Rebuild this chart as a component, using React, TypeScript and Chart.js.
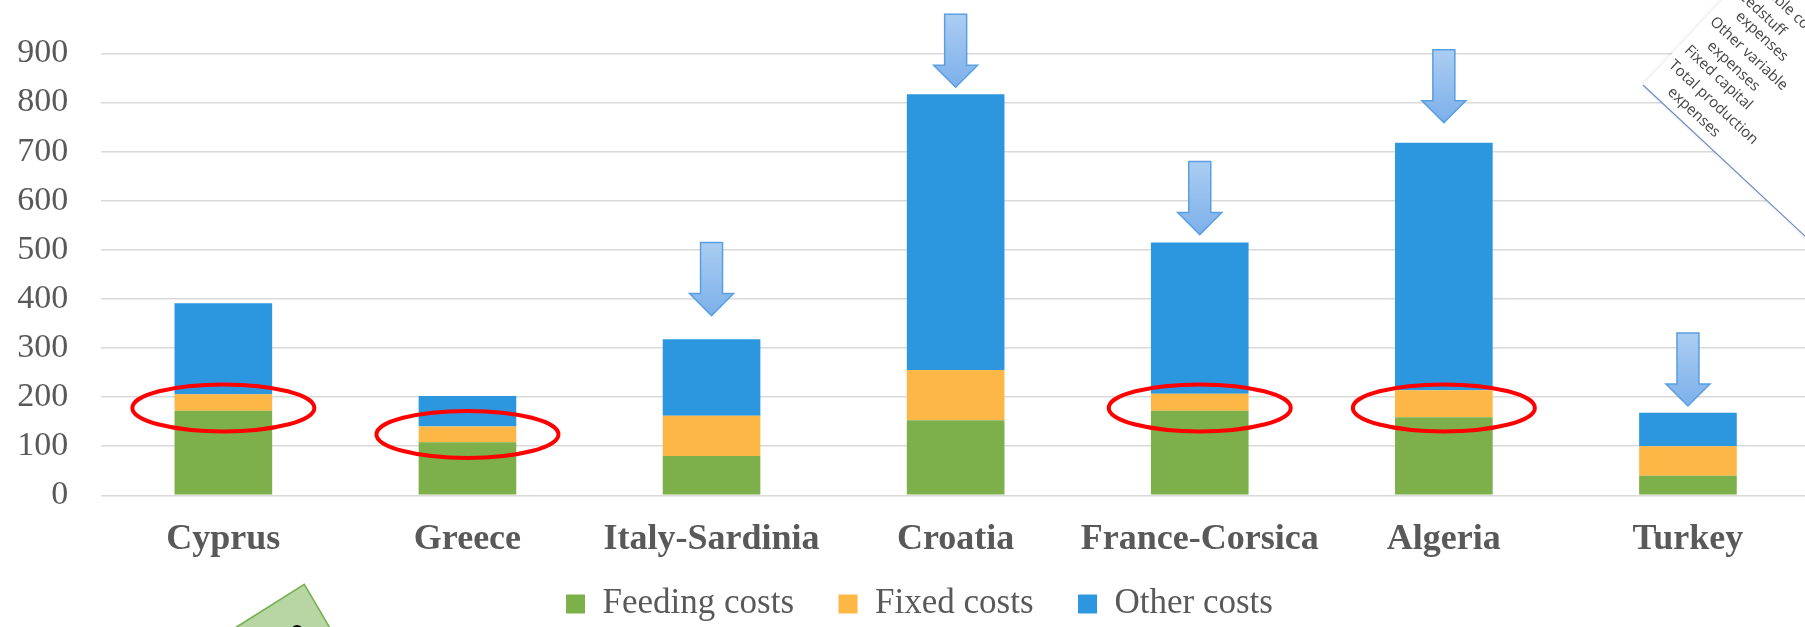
import { useEffect, useRef } from "react";
import { Chart, registerables } from "chart.js";

Chart.register(...registerables);

const categories = ["Cyprus", "Greece", "Italy-Sardinia", "Croatia", "France-Corsica", "Algeria", "Turkey"];
const feedingCosts = [172, 108, 80, 153, 172, 159, 40];
const fixedCosts = [34, 32, 82, 102, 35, 55, 60];
const otherCosts = [185, 62, 156, 562, 308, 504, 68];
const yTicks = [0, 100, 200, 300, 400, 500, 600, 700, 800, 900];
const seriesNames = ["Feeding costs", "Fixed costs", "Other costs"];

const highlightedCategories = ["Cyprus", "Greece", "France-Corsica", "Algeria"];
const highlightValues = [178, 124, 178, 178];
const arrowCategories = ["Italy-Sardinia", "Croatia", "France-Corsica", "Algeria", "Turkey"];
const arrowTipValues = [366, 831, 531, 759, 182];
const insetLabels = [
  "Variable costs",
  "Feedstuff",
  "expenses",
  "Other variable",
  "expenses",
  "Fixed capital",
  "Total production",
  "expenses",
];

const TEXT = "#595959";
const SERIF = "'Liberation Serif', 'Times New Roman', serif";

export default function App() {
  const ref = useRef<HTMLCanvasElement>(null);

  useEffect(() => {
    document.body.style.margin = "0";
    document.body.style.overflow = "hidden";
    const canvas = ref.current!;

    const ang = (43 * Math.PI) / 180;
    const dx = Math.cos(ang);
    const dy = Math.sin(ang);
    const insetCenters = [
      [1786, 7],
      [1759.6, 11.2],
      [1761.7, 36.5],
      [1748.7, 53.7],
      [1733.3, 66.2],
      [1718.3, 77.7],
      [1713.3, 102.5],
      [1693.7, 112.2],
    ];

    const overlay = {
      id: "overlay",
      afterLayout(chart: any) {
        const lg = chart.legend;
        if (lg) {
          const h = lg.bottom - lg.top;
          lg.left = 29;
          lg.top = 542;
          lg.bottom = 542 + h;
        }
      },
      afterDatasetsDraw(chart: any) {
        const { ctx } = chart;
        const x = chart.scales.x;
        const y = chart.scales.y;
        ctx.save();
        // red ellipses
        ctx.strokeStyle = "#ff0000";
        ctx.lineWidth = 4;
        highlightedCategories.forEach((c, i) => {
          const cx = x.getPixelForValue(categories.indexOf(c));
          const cy = y.getPixelForValue(highlightValues[i]);
          ctx.beginPath();
          ctx.ellipse(cx, cy, 91, 23.5, 0, 0, Math.PI * 2);
          ctx.stroke();
        });
        // block arrows
        arrowCategories.forEach((c, i) => {
          const cx = x.getPixelForValue(categories.indexOf(c));
          const tip = y.getPixelForValue(arrowTipValues[i]);
          const headH = 22;
          const shaftH = 51;
          const headW = 22;
          const shaftW = 11;
          const top = tip - headH - shaftH;
          const g = ctx.createLinearGradient(0, top, 0, tip);
          g.addColorStop(0, "#abcdf2");
          g.addColorStop(1, "#7cb0ea");
          ctx.beginPath();
          ctx.moveTo(cx - shaftW, top);
          ctx.lineTo(cx + shaftW, top);
          ctx.lineTo(cx + shaftW, tip - headH);
          ctx.lineTo(cx + headW, tip - headH);
          ctx.lineTo(cx, tip);
          ctx.lineTo(cx - headW, tip - headH);
          ctx.lineTo(cx - shaftW, tip - headH);
          ctx.closePath();
          ctx.fillStyle = g;
          ctx.fill();
          ctx.strokeStyle = "#5a9fe0";
          ctx.lineWidth = 1.5;
          ctx.stroke();
        });
        ctx.restore();
      },
      afterDraw(chart: any) {
        const { ctx } = chart;
        ctx.save();
        // white inset patch
        const p0x = 1643;
        const p0y = 85;
        const nx = dy;
        const ny = -dx;
        ctx.beginPath();
        ctx.moveTo(p0x, p0y);
        ctx.lineTo(p0x + 300 * nx, p0y + 300 * ny);
        ctx.lineTo(p0x + 300 * nx + 500 * dx, p0y + 300 * ny + 500 * dy);
        ctx.lineTo(p0x + 500 * dx, p0y + 500 * dy);
        ctx.closePath();
        ctx.shadowColor = "rgba(0,0,0,0.12)";
        ctx.shadowBlur = 5;
        ctx.fillStyle = "#ffffff";
        ctx.fill();
        ctx.shadowBlur = 0;
        ctx.shadowColor = "transparent";
        ctx.beginPath();
        ctx.moveTo(p0x, p0y);
        ctx.lineTo(p0x + 500 * dx, p0y + 500 * dy);
        ctx.strokeStyle = "#6d8cc6";
        ctx.lineWidth = 1.2;
        ctx.stroke();
        // rotated labels
        ctx.fillStyle = "#454545";
        ctx.font = "15px 'Open Sans', sans-serif";
        ctx.textAlign = "center";
        ctx.textBaseline = "middle";
        insetLabels.forEach((t, i) => {
          const [cx, cy] = insetCenters[i];
          ctx.save();
          ctx.translate(cx, cy);
          ctx.rotate(ang);
          ctx.fillText(t, 0, 0);
          ctx.restore();
        });
        // green triangle fragment
        ctx.beginPath();
        ctx.moveTo(235, 628);
        ctx.lineTo(304.3, 584.3);
        ctx.lineTo(330, 628);
        ctx.closePath();
        ctx.fillStyle = "#b8d6a4";
        ctx.fill();
        ctx.strokeStyle = "#76b04c";
        ctx.lineWidth = 1.5;
        ctx.stroke();
        ctx.beginPath();
        ctx.arc(297, 631, 6, 0, Math.PI * 2);
        ctx.fillStyle = "#000000";
        ctx.fill();
        ctx.restore();
      },
    };

    const chart = new Chart(canvas, {
      type: "bar",
      data: {
        labels: categories,
        datasets: [
          { label: seriesNames[0], data: feedingCosts, backgroundColor: "#7db04a", borderWidth: 0 },
          { label: seriesNames[1], data: fixedCosts, backgroundColor: "#fdb746", borderWidth: 0 },
          { label: seriesNames[2], data: otherCosts, backgroundColor: "#2c97de", borderWidth: 0 },
        ],
      },
      options: {
        animation: false,
        responsive: false,
        devicePixelRatio: 1,
        datasets: { bar: { barPercentage: 1, categoryPercentage: 0.4 } },
        layout: { padding: { left: 0, right: 0, top: 49, bottom: 13 } },
        plugins: {
          tooltip: { enabled: false },
          legend: {
            position: "bottom",
            labels: {
              boxWidth: 19,
              boxHeight: 19,
              padding: 44.5,
              color: TEXT,
              font: { family: SERIF, size: 35 },
            },
          },
        },
        scales: {
          x: {
            stacked: true,
            grid: { display: false },
            border: { display: false },
            ticks: {
              color: TEXT,
              font: { family: SERIF, size: 36, weight: "bold" },
              padding: 15,
              maxRotation: 0,
              autoSkip: false,
            },
          },
          y: {
            stacked: true,
            min: 0,
            max: 900,
            afterBuildTicks: (s: any) => {
              s.ticks = yTicks.map((v) => ({ value: v }));
            },
            ticks: {
              color: TEXT,
              font: { family: SERIF, size: 34 },
              padding: 33,
            },
            grid: { color: "#d9d9d9", lineWidth: 1.5, drawTicks: false },
            border: { display: false },
            afterFit: (s: any) => {
              s.width = 101.3;
            },
          },
        },
      },
      plugins: [overlay],
    } as any);

    return () => chart.destroy();
  }, []);

  return (
    <div style={{ position: "fixed", left: 0, top: 0, width: 1805, height: 627, overflow: "hidden", background: "#fff" }}>
      <canvas ref={ref} width={1810} height={679} style={{ display: "block" }} />
    </div>
  );
}
